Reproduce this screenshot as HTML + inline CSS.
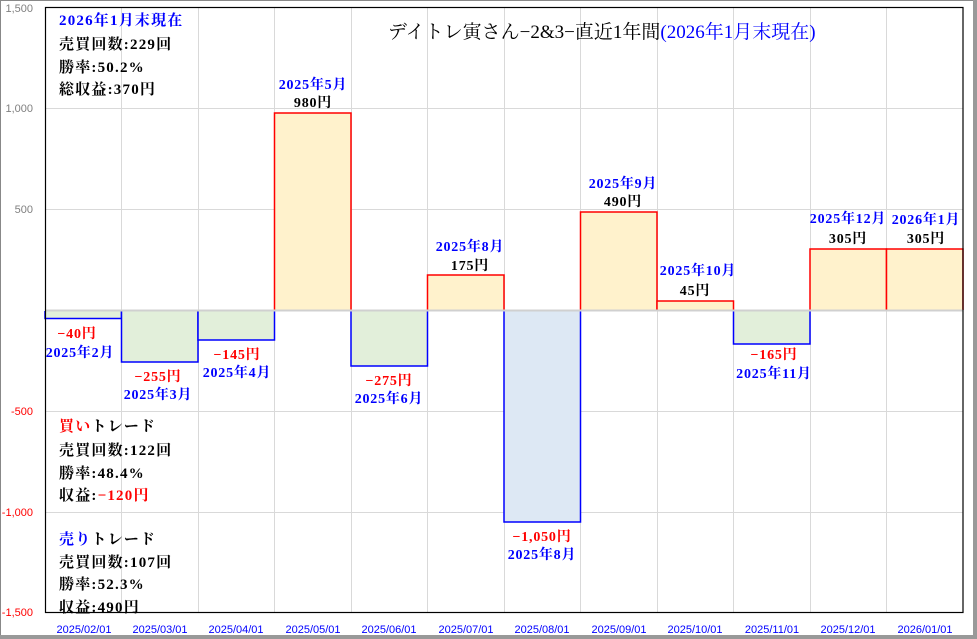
<!DOCTYPE html>
<html><head><meta charset="utf-8"><style>
body{margin:0;background:#fff}
svg{display:block}
text{font-family:"Liberation Sans","Noto Sans CJK JP",sans-serif}
.s text, text.t{font-family:"Liberation Serif","Noto Serif CJK JP",serif}
.s text{font-weight:bold}
.b text{letter-spacing:0.8px}
.st text{letter-spacing:1.2px}
</style></head><body>
<svg width="977" height="639" viewBox="0 0 977 639" xmlns="http://www.w3.org/2000/svg">
<rect x="0.5" y="0.5" width="975" height="637" fill="#fff" stroke="#888" stroke-width="1"/>
<rect x="973" y="0" width="4" height="639" fill="#999"/>
<rect x="0" y="635" width="977" height="4" fill="#999"/>
<g stroke="#d9d9d9" stroke-width="1">
<line x1="45" y1="108.5" x2="963" y2="108.5"/><line x1="45" y1="209.5" x2="963" y2="209.5"/>
<line x1="45" y1="411.5" x2="963" y2="411.5"/><line x1="45" y1="512.5" x2="963" y2="512.5"/>
<line x1="121.5" y1="8" x2="121.5" y2="613"/><line x1="198.5" y1="8" x2="198.5" y2="613"/>
<line x1="274.5" y1="8" x2="274.5" y2="613"/><line x1="351.5" y1="8" x2="351.5" y2="613"/>
<line x1="427.5" y1="8" x2="427.5" y2="613"/><line x1="504.5" y1="8" x2="504.5" y2="613"/>
<line x1="580.5" y1="8" x2="580.5" y2="613"/><line x1="657.5" y1="8" x2="657.5" y2="613"/>
<line x1="733.5" y1="8" x2="733.5" y2="613"/><line x1="810.5" y1="8" x2="810.5" y2="613"/>
<line x1="886.5" y1="8" x2="886.5" y2="613"/>
</g>
<g stroke-width="1.5">
<path d="M45 311V318.5H121.5V311" fill="#e2efda" stroke="#0000ff"/>
<path d="M121.5 311V362H198V311" fill="#e2efda" stroke="#0000ff"/>
<path d="M198 311V340H274.5V311" fill="#e2efda" stroke="#0000ff"/>
<path d="M274.5 310V113H351V310" fill="#fff2cc" stroke="#ff0000"/>
<path d="M351 311V366H427.5V311" fill="#e2efda" stroke="#0000ff"/>
<path d="M427.5 310V275H504V310" fill="#fff2cc" stroke="#ff0000"/>
<path d="M504 311V522H580.5V311" fill="#dde8f4" stroke="#0000ff"/>
<path d="M580.5 310V212H657V310" fill="#fff2cc" stroke="#ff0000"/>
<path d="M657 310V301H733.5V310" fill="#fff2cc" stroke="#ff0000"/>
<path d="M733.5 311V344H810V311" fill="#e2efda" stroke="#0000ff"/>
<path d="M810 310V249H886.5V310" fill="#fff2cc" stroke="#ff0000"/>
<path d="M886.5 310V249H963V310" fill="#fff2cc" stroke="#ff0000"/>
</g>
<line x1="45" y1="310.5" x2="963" y2="310.5" stroke="#d0d0d0" stroke-width="2"/>
<rect x="45.5" y="7.5" width="917.5" height="605" fill="none" stroke="#000" stroke-width="1.2"/>
<g font-size="11" text-anchor="end">
<text x="33" y="12" fill="#7f7f7f">1,500</text>
<text x="33" y="112" fill="#7f7f7f">1,000</text>
<text x="33" y="213" fill="#7f7f7f">500</text>
<text x="33" y="415" fill="#ff0000">-500</text>
<text x="33" y="516" fill="#ff0000">-1,000</text>
<text x="33" y="616" fill="#ff0000">-1,500</text>
</g>
<g font-size="11" fill="#0000ff" text-anchor="middle">
<text x="84" y="633">2025/02/01</text><text x="160" y="633">2025/03/01</text>
<text x="236" y="633">2025/04/01</text><text x="313" y="633">2025/05/01</text>
<text x="389" y="633">2025/06/01</text><text x="466" y="633">2025/07/01</text>
<text x="542" y="633">2025/08/01</text><text x="619" y="633">2025/09/01</text>
<text x="695" y="633">2025/10/01</text><text x="772" y="633">2025/11/01</text>
<text x="848" y="633">2025/12/01</text><text x="925" y="633">2026/01/01</text>
</g>
<g class="s b" font-size="14" text-anchor="middle">
<text x="77" y="338" fill="#ff0000">−40円</text><text x="80" y="357" fill="#0000ff">2025年2月</text>
<text x="158" y="381" fill="#ff0000">−255円</text><text x="158" y="399" fill="#0000ff">2025年3月</text>
<text x="237" y="359" fill="#ff0000">−145円</text><text x="237" y="377" fill="#0000ff">2025年4月</text>
<text x="313" y="89" fill="#0000ff">2025年5月</text><text x="313" y="107" fill="#000">980円</text>
<text x="389" y="385" fill="#ff0000">−275円</text><text x="389" y="403" fill="#0000ff">2025年6月</text>
<text x="470" y="251" fill="#0000ff">2025年8月</text><text x="470" y="270" fill="#000">175円</text>
<text x="542" y="541" fill="#ff0000">−1,050円</text><text x="542" y="559" fill="#0000ff">2025年8月</text>
<text x="623" y="188" fill="#0000ff">2025年9月</text><text x="623" y="206" fill="#000">490円</text>
<text x="698" y="275" fill="#0000ff">2025年10月</text><text x="695" y="295" fill="#000">45円</text>
<text x="774" y="359" fill="#ff0000">−165円</text><text x="774" y="378" fill="#0000ff">2025年11月</text>
<text x="848" y="223" fill="#0000ff">2025年12月</text><text x="848" y="243" fill="#000">305円</text>
<text x="926" y="224" fill="#0000ff">2026年1月</text><text x="926" y="243" fill="#000">305円</text>
</g>
<text class="t" x="388" y="38" font-size="19" fill="#000">デイトレ寅さん−2&amp;3−直近1年間<tspan fill="#0000ff">(2026年1月末現在)</tspan></text>
<g class="s st" font-size="15" fill="#000">
<text x="59" y="25" fill="#0000ff">2026年1月末現在</text>
<text x="59" y="49">売買回数:229回</text>
<text x="59" y="72">勝率:50.2%</text>
<text x="59" y="94">総収益:370円</text>
<text x="59" y="431"><tspan fill="#ff0000">買い</tspan>トレード</text>
<text x="59" y="455">売買回数:122回</text>
<text x="59" y="478">勝率:48.4%</text>
<text x="59" y="500">収益:<tspan fill="#ff0000">−120円</tspan></text>
<text x="59" y="544"><tspan fill="#0000ff">売り</tspan>トレード</text>
<text x="59" y="567">売買回数:107回</text>
<text x="59" y="589">勝率:52.3%</text>
<text x="59" y="612">収益:490円</text>
</g>
</svg>
</body></html>
